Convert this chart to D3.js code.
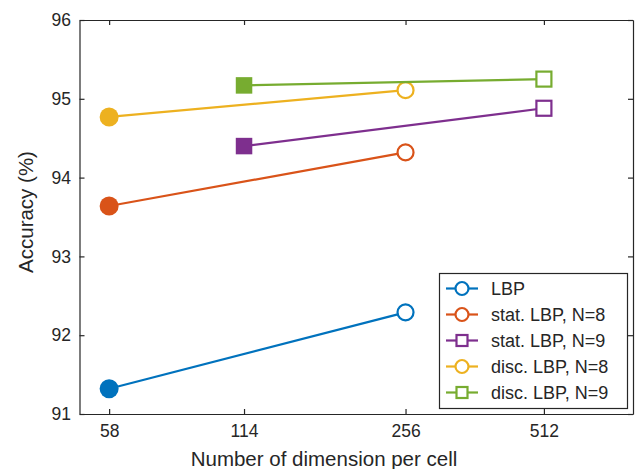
<!DOCTYPE html>
<html>
<head>
<meta charset="utf-8">
<script src="https://cdn.jsdelivr.net/npm/d3@7/dist/d3.min.js"></script>
<style>
  body { margin: 0; background: #fff; }
  svg text { font-family: "Liberation Sans", Arial, sans-serif; fill: #262626; }
</style>
</head>
<body>
<div id="chart"></div>
<script>
// =============================================================
// DATA

let x_ticks = [ 58, 114, 256, 512 ];
let y_ticks = [ 91, 92, 93, 94, 95, 96 ];

let names   = [ 'LBP', 'stat. LBP, N=8', 'stat. LBP, N=9', 'disc. LBP, N=8', 'disc. LBP, N=9' ];
let colours = [ '#0072BD', '#D95319', '#7E2F8E', '#EDB120', '#77AC30' ];
let shapes  = [ 'circle', 'circle', 'square', 'circle', 'square' ];

let lbp_x   = [ 58, 256 ],  lbp_y   = [ 91.32, 92.29 ];
let stat8_x = [ 58, 256 ],  stat8_y = [ 93.64, 94.32 ];
let stat9_x = [ 114, 512 ], stat9_y = [ 94.40, 94.88 ];
let disc8_x = [ 58, 256 ],  disc8_y = [ 94.77, 95.11 ];
let disc9_x = [ 114, 512 ], disc9_y = [ 95.17, 95.25 ];

let series_x = [ lbp_x, stat8_x, stat9_x, disc8_x, disc9_x ];
let series_y = [ lbp_y, stat8_y, stat9_y, disc8_y, disc9_y ];

// =============================================================
// SETUP

let svg_width = 635, svg_height = 469;
let m_left = 79.5, m_right = 633, m_top = 20, m_bottom = 414;
let axis_colour = '#262626';

let svg = d3.select('#chart')
            .append('svg')
            .attr('width', svg_width)
            .attr('height', svg_height);

let x_scale = d3.scaleLog()
                .domain([ 50, 800 ])
                .range([ m_left, m_right ]);

let y_scale = d3.scaleLinear()
                .domain([ 91, 96 ])
                .range([ m_bottom, m_top ]);

// =============================================================
// AXES (box with inward ticks)

let x_axis = d3.axisBottom(x_scale)
               .tickValues(x_ticks)
               .tickFormat(d3.format('d'))
               .tickSizeInner(-5)
               .tickSizeOuter(0)
               .tickPadding(11);

let y_axis = d3.axisLeft(y_scale)
               .tickValues(y_ticks)
               .tickFormat(d3.format('d'))
               .tickSizeInner(-5)
               .tickSizeOuter(0)
               .tickPadding(8.5);

let gx = svg.append('g')
            .attr('transform', 'translate(0,' + m_bottom + ')')
            .call(x_axis);

let gy = svg.append('g')
            .attr('transform', 'translate(' + m_left + ',0)')
            .call(y_axis);

// top and right mirror ticks
svg.append('g')
   .attr('transform', 'translate(0,' + m_top + ')')
   .call(d3.axisTop(x_scale).tickValues(x_ticks).tickSizeInner(-5).tickSizeOuter(0).tickFormat(''));

svg.append('g')
   .attr('transform', 'translate(' + m_right + ',0)')
   .call(d3.axisRight(y_scale).tickValues(y_ticks).tickSizeInner(-5).tickSizeOuter(0).tickFormat(''));

svg.selectAll('.domain, .tick line')
   .attr('stroke', axis_colour)
   .attr('stroke-width', 1.2);

svg.selectAll('.tick text')
   .attr('font-size', 17.5)
   .attr('fill', axis_colour)
   .style('font-family', '"Liberation Sans", Arial, sans-serif');

gx.selectAll('.tick text').attr('dy', '0.71em');

// axis labels
svg.append('text')
   .attr('x', 324)
   .attr('y', 465.5)
   .attr('text-anchor', 'middle')
   .attr('font-size', 20.5)
   .text('Number of dimension per cell');

svg.append('text')
   .attr('transform', 'translate(33,212) rotate(-90)')
   .attr('text-anchor', 'middle')
   .attr('font-size', 20.5)
   .text('Accuracy (%)');

// =============================================================
// SERIES

function drawMarker(g, shape, cx, cy, colour, filled, size) {
// circle or square marker, filled or open
    if (shape === 'circle') {
        g.append('circle')
         .attr('cx', cx).attr('cy', cy)
         .attr('r', filled ? size + 1.5 : size)
         .attr('fill', filled ? colour : '#fff')
         .attr('stroke', filled ? 'none' : colour)
         .attr('stroke-width', 2.2);
    } else {
        let s = filled ? size * 2 + 1.5 : size * 2;
        g.append('rect')
         .attr('x', cx - s / 2).attr('y', cy - s / 2)
         .attr('width', s).attr('height', s)
         .attr('fill', filled ? colour : '#fff')
         .attr('stroke', filled ? 'none' : colour)
         .attr('stroke-width', 2.2);
    }
}

let line = d3.line()
             .x(d => x_scale(d[0]))
             .y(d => y_scale(d[1]));

for (let i = 0; i < names.length; i++) {
    let pts = d3.zip(series_x[i], series_y[i]);
    let g = svg.append('g');

    g.append('path')
     .datum(pts)
     .attr('d', line)
     .attr('fill', 'none')
     .attr('stroke', colours[i])
     .attr('stroke-width', 2.2);

    let size = shapes[i] === 'circle' ? 8 : 7.5;
    pts.forEach(function(p, j) {
        drawMarker(g, shapes[i], x_scale(p[0]), y_scale(p[1]), colours[i], j === 0, size);
    });
}

// =============================================================
// LEGEND

let legend = svg.append('g');

legend.append('rect')
      .attr('x', 439.5).attr('y', 273.5)
      .attr('width', 188).attr('height', 135)
      .attr('fill', '#fff')
      .attr('stroke', axis_colour)
      .attr('stroke-width', 1.2);

for (let i = 0; i < names.length; i++) {
    let cy = 288.5 + i * 26;
    legend.append('line')
          .attr('x1', 446).attr('x2', 478)
          .attr('y1', cy).attr('y2', cy)
          .attr('stroke', colours[i])
          .attr('stroke-width', 2.2);
    drawMarker(legend, shapes[i], 462, cy, colours[i], false, shapes[i] === 'circle' ? 6.5 : 5.5);
    legend.append('text')
          .attr('x', 491)
          .attr('y', cy)
          .attr('dy', '0.35em')
          .attr('font-size', 18)
          .text(names[i]);
}
</script>
</body>
</html>
